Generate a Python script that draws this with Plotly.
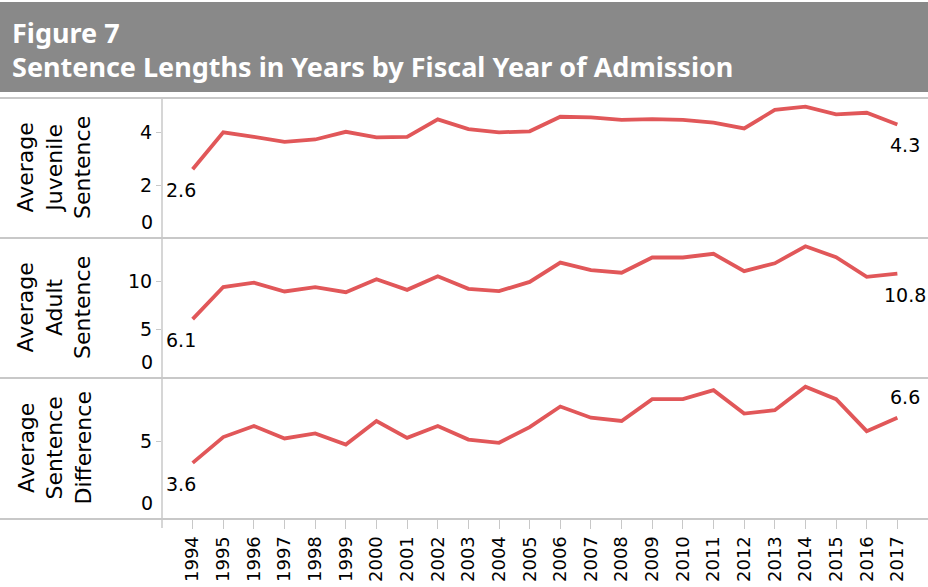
import plotly.graph_objects as go

W, H = 928, 587

years = [str(y) for y in range(1994, 2018)]

juvenile = [2.6, 4.0, 3.83, 3.64, 3.73, 4.02, 3.81, 3.83, 4.49, 4.12, 4.0, 4.04,
            4.59, 4.57, 4.47, 4.5, 4.47, 4.37, 4.15, 4.85, 4.97, 4.68, 4.74, 4.3]
adult = [6.1, 9.42, 9.87, 8.96, 9.42, 8.89, 10.22, 9.13, 10.54, 9.24, 9.0, 9.95,
         11.95, 11.17, 10.9, 12.48, 12.48, 12.86, 11.07, 11.88, 13.64, 12.51, 10.47, 10.8]
difference = [3.6, 5.26, 5.97, 5.17, 5.49, 4.78, 6.29, 5.21, 5.97, 5.1, 4.89, 5.9,
              7.22, 6.5, 6.29, 7.69, 7.69, 8.27, 6.77, 6.98, 8.49, 7.69, 5.64, 6.5]

panel_titles = ["Average<br>Juvenile<br>Sentence",
                "Average<br>Adult<br>Sentence",
                "Average<br>Sentence<br>Difference"]
end_labels = [("2.6", "4.3"), ("6.1", "10.8"), ("3.6", "6.6")]
y_ticks = [[2, 4], [5, 10], [5]]
y_max = [5.3, 14.5, 9.05]

RED = "#e15759"
GRID = "#c8c8c8"
FONT = "DejaVu Sans"


def py(pix):
    return 1 - pix / H


# panel boundaries in pixels (top, bottom)
panels = [(98, 238), (238, 378), (378, 519)]
x_left = 162 / W

fig = go.Figure()

series = [juvenile, adult, difference]
for i, vals in enumerate(series):
    yname = "y" if i == 0 else f"y{i + 1}"
    fig.add_trace(go.Scatter(
        x=years, y=vals, yaxis=yname, mode="lines",
        line=dict(color=RED, width=3.8),
        hoverinfo="skip", showlegend=False,
    ))

layout = dict(
    width=W, height=H,
    margin=dict(l=0, r=0, t=0, b=0),
    paper_bgcolor="white", plot_bgcolor="white",
    showlegend=False,
    font=dict(family=FONT, color="black"),
    xaxis=dict(
        type="category", domain=[x_left, 1], range=[-1, 24], anchor="y3",
        showgrid=False, zeroline=False, showline=False,
        ticks="outside", ticklen=9, tickcolor=GRID, tickwidth=1,
        tickangle=-90, tickfont=dict(size=18, family=FONT),
        fixedrange=True,
    ),
)
for i, (top, bot) in enumerate(panels):
    key = "yaxis" if i == 0 else f"yaxis{i + 1}"
    layout[key] = dict(
        domain=[py(bot), py(top)], range=[0, y_max[i]], anchor="x",
        tickvals=y_ticks[i], ticks="outside", ticklen=5, tickcolor=GRID,
        showgrid=False, zeroline=False, showline=False,
        tickfont=dict(size=19, family=FONT), fixedrange=True,
    )
fig.update_layout(**layout)

shapes = [
    # header band
    dict(type="rect", xref="paper", yref="paper", x0=0, x1=1, y0=py(92), y1=py(2),
         fillcolor="#898989", line=dict(width=0), layer="below"),
    # vertical axis line
    dict(type="line", xref="paper", yref="paper", x0=x_left, x1=x_left,
         y0=py(528), y1=py(98), line=dict(color=GRID, width=1.5)),
]
for pix in [98, 238, 378, 519]:
    shapes.append(dict(type="line", xref="paper", yref="paper", x0=0, x1=1,
                       y0=py(pix), y1=py(pix), line=dict(color=GRID, width=2)))
fig.update_layout(shapes=shapes)

annotations = [
    dict(xref="paper", yref="paper", x=10 / W, y=py(32), xanchor="left", yanchor="middle",
         text="<b>Figure 7</b>", showarrow=False,
         font=dict(size=27, color="white", family="Noto Sans")),
    dict(xref="paper", yref="paper", x=10 / W, y=py(67), xanchor="left", yanchor="middle",
         text="<b>Sentence Lengths in Years by Fiscal Year of Admission</b>", showarrow=False,
         font=dict(size=27, color="white", family="Noto Sans")),
]
for i, vals in enumerate(series):
    yref = "y" if i == 0 else f"y{i + 1}"
    # panel title
    annotations.append(dict(
        xref="paper", yref=f"{yref} domain", x=54 / W, y=0.5,
        text=panel_titles[i], textangle=-90, showarrow=False,
        xanchor="center", yanchor="middle", align="center",
        font=dict(size=22, family=FONT),
    ))
    # zero tick label, lifted inside the pane
    annotations.append(dict(
        xref="x domain", yref=yref, x=0, y=0, text="0", showarrow=False,
        xanchor="right", yanchor="middle", xshift=-7, yshift=16,
        font=dict(size=19, family=FONT),
    ))
    first, last = end_labels[i]
    annotations.append(dict(
        xref="x", yref=yref, x=0, y=vals[0], text=first, showarrow=False,
        xanchor="center", yanchor="middle", xshift=-12, yshift=-21,
        font=dict(size=19, family=FONT),
    ))
    last_shift = 21 if i == 2 else -21
    annotations.append(dict(
        xref="x", yref=yref, x=len(years) - 1, y=vals[-1], text=last, showarrow=False,
        xanchor="center", yanchor="middle", xshift=8, yshift=last_shift,
        font=dict(size=19, family=FONT),
    ))
fig.update_layout(annotations=annotations)

fig.write_html("out.html", config={"displayModeBar": False},
               post_script="document.body.style.margin='0';")
